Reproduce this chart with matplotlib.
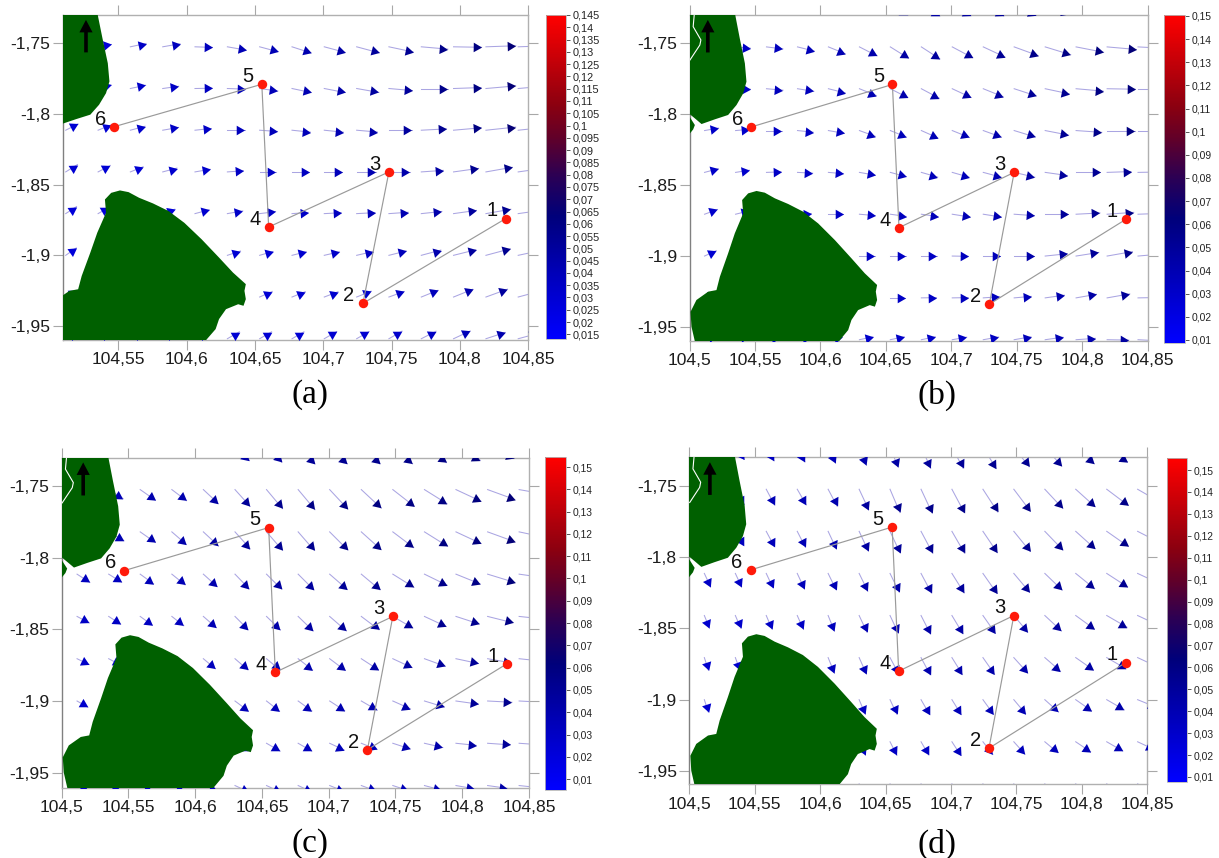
import numpy as np
import matplotlib
matplotlib.use("Agg")
import matplotlib.pyplot as plt
from matplotlib.cm import ScalarMappable
from matplotlib.colors import LinearSegmentedColormap, Normalize

plt.rcParams["font.family"] = ["Liberation Sans", "DejaVu Sans"]

FIG_W = 1219
FIG_H = 858

# stations along the route, lon / lat
station_lon = [104.8335, 104.729, 104.748, 104.66, 104.655, 104.547]
station_lat = [-1.874, -1.934, -1.841, -1.88, -1.779, -1.809]
station_names = ["1", "2", "3", "4", "5", "6"]

# current vector grid
grid_lon = [104.5115, 104.5352, 104.5588, 104.5825, 104.6061, 104.6298, 104.6534, 104.6771,
            104.7007, 104.7244, 104.748, 104.7717, 104.7953, 104.819, 104.8426]
grid_lat = [-1.723, -1.7525, -1.782, -1.8115, -1.841, -1.8705, -1.9, -1.9295, -1.959]

# direction in degrees on screen, speed in cm/s
angle_a = [
    [-8, -8, -8, -8, -10, -10, -12, -12, -12, -12, -10, -8, -6, -4, -4],
    [10, 10, 12, 10, -2, -10, -15, -18, -15, -15, -12, -5, -1, 2, 2],
    [15, 15, 12, 8, 1, -2, -8, -12, -11, -10, -5, 0, 2, 5, 5],
    [27, 22, 15, 10, 6, 0, -4, -6, -6, -5, 0, 3, 5, 6, 6],
    [32, 28, 22, 15, 10, 4, 0, 0, 0, 0, 0, 4, 8, 10, 8],
    [33, 30, 25, 20, 15, 10, 7, 4, 3, 3, 4, 6, 8, 10, 8],
    [35, 30, 28, 25, 20, 18, 16, 14, 13, 13, 14, 15, 14, 15, 12],
    [30, 30, 28, 26, 26, 25, 24, 22, 21, 22, 20, 22, 22, 20, 15],
    [30, 30, 30, 30, 30, 30, 30, 30, 30, 30, 30, 27, 25, 18, 15],
]
speed_a = [
    [3.0, 3.0, 3.0, 3.2, 3.4, 3.6, 3.8, 4.0, 4.4, 4.8, 5.2, 5.6, 6.0, 6.4, 6.4],
    [2.9, 2.9, 3.5, 3.8, 3.8, 4.1, 4.1, 4.3, 4.7, 5.1, 5.4, 5.8, 6.1, 6.5, 6.5],
    [2.9, 2.9, 3.4, 3.5, 3.7, 3.9, 4.0, 4.2, 4.6, 4.9, 5.1, 5.7, 6.0, 6.5, 6.5],
    [3.0, 3.0, 3.3, 3.5, 3.5, 3.8, 3.9, 4.0, 4.2, 4.5, 5.0, 5.5, 6.0, 6.5, 6.5],
    [3.0, 3.0, 3.0, 3.2, 3.3, 3.5, 3.5, 3.7, 3.9, 4.2, 4.5, 4.8, 5.5, 5.8, 5.8],
    [2.8, 2.8, 2.8, 2.8, 3.2, 3.4, 3.5, 3.5, 3.7, 4.0, 4.2, 4.5, 5.0, 5.5, 5.5],
    [2.8, 2.8, 2.8, 2.8, 2.9, 3.0, 3.0, 3.2, 3.4, 3.7, 3.9, 4.4, 5.0, 5.5, 5.5],
    [2.8, 2.8, 2.8, 2.8, 2.9, 3.0, 3.0, 3.1, 3.2, 3.4, 3.5, 3.9, 4.5, 5.0, 5.0],
    [2.8, 2.8, 2.8, 2.8, 2.9, 3.0, 3.0, 3.0, 3.1, 3.1, 3.3, 3.6, 4.0, 4.4, 4.4],
]

angle_b = [
    [-8, -8, -10, -12, -18, -28, -30, -30, -28, -28, -25, -20, -12, -8, -6],
    [-3, -5, -7, -14, -22, -27, -32, -33, -28, -25, -20, -17, -11, -5, -3],
    [0, -2, -5, -9, -14, -22, -27, -28, -25, -22, -18, -12, -5, -1, 0],
    [10, 5, 0, -6, -10, -20, -22, -24, -22, -20, -17, -11, -4, 0, 0],
    [15, 9, 2, -3, -5, -10, -15, -16, -16, -15, -13, -8, 0, 2, 1],
    [20, 14, 8, 3, 0, -5, -8, -8, -9, -9, -4, 0, 3, 4, 2],
    [25, 18, 12, 6, 2, 0, 0, 0, -1, 0, 0, 6, 9, 10, 5],
    [25, 20, 15, 10, 5, 2, 0, 1, 1, 4, 5, 8, 10, 10, 1],
    [20, 18, 16, 14, 12, 12, 12, 12, 10, 10, 10, 8, 4, -1, -3],
]
speed_b = [
    [3.0, 3.0, 3.2, 3.5, 3.8, 4.0, 4.3, 4.5, 4.7, 5.0, 5.3, 5.6, 5.8, 6.0, 6.0],
    [3.0, 3.2, 3.6, 3.8, 4.0, 4.3, 4.6, 4.8, 5.0, 5.2, 5.6, 5.8, 6.1, 6.4, 6.4],
    [3.0, 3.2, 3.6, 3.6, 3.8, 4.0, 4.2, 4.4, 4.5, 4.7, 5.0, 5.4, 5.9, 6.1, 6.1],
    [3.1, 3.0, 3.3, 3.4, 3.5, 3.7, 3.8, 3.9, 4.0, 4.2, 4.8, 5.2, 5.6, 6.0, 6.0],
    [3.1, 3.0, 3.2, 3.3, 3.3, 3.5, 3.6, 3.7, 3.8, 4.0, 4.6, 4.9, 5.2, 5.2, 5.2],
    [3.0, 3.0, 3.0, 3.0, 3.2, 3.4, 3.5, 3.7, 3.9, 4.0, 4.4, 5.0, 5.2, 5.8, 5.8],
    [2.8, 2.8, 2.8, 3.0, 3.1, 3.3, 3.3, 3.3, 3.5, 3.7, 4.4, 4.8, 5.0, 5.6, 5.6],
    [2.8, 2.8, 2.8, 3.0, 3.1, 3.2, 3.2, 3.3, 3.5, 3.6, 3.7, 4.2, 4.5, 5.0, 5.0],
    [2.8, 2.8, 2.8, 2.9, 3.0, 3.0, 3.1, 3.1, 3.2, 3.4, 3.7, 3.9, 4.2, 4.7, 4.7],
]

angle_c = [
    [-10, -15, -20, -25, -35, -42, -45, -45, -43, -42, -40, -35, -28, -22, -20],
    [-30, -32, -35, -37, -43, -48, -50, -50, -47, -43, -38, -32, -25, -20, -10],
    [-30, -30, -35, -41, -43, -48, -49, -49, -45, -42, -37, -32, -25, -20, -12],
    [-33, -32, -36, -39, -42, -46, -45, -45, -41, -40, -32, -26, -22, -17, -8],
    [-28, -33, -36, -38, -41, -45, -44, -44, -41, -37, -30, -25, -18, -14, -6],
    [-26, -28, -32, -32, -40, -41, -40, -38, -37, -33, -25, -20, -12, -10, -6],
    [-30, -32, -34, -36, -37, -37, -38, -36, -33, -30, -24, -17, -8, -3, -3],
    [-30, -30, -30, -30, -30, -30, -30, -30, -25, -22, -18, -13, -6, -4, -4],
    [-25, -25, -25, -25, -25, -25, -25, -25, -22, -20, -18, -15, -10, -8, -6],
]
speed_c = [
    [3.0, 3.0, 3.2, 3.5, 3.8, 4.2, 4.6, 5.0, 5.2, 5.4, 5.6, 5.8, 6.0, 6.2, 6.0],
    [3.5, 3.7, 4.0, 4.0, 4.4, 4.9, 5.4, 5.7, 5.7, 5.9, 5.8, 5.8, 6.0, 6.3, 6.0],
    [3.5, 3.8, 4.0, 4.1, 4.5, 4.9, 5.2, 5.3, 5.5, 5.7, 5.7, 5.9, 6.0, 6.3, 6.0],
    [3.3, 3.3, 3.6, 3.7, 4.0, 4.4, 4.6, 4.7, 5.0, 5.3, 5.4, 5.5, 5.7, 6.2, 6.0],
    [3.0, 3.1, 3.2, 3.3, 3.7, 4.0, 4.2, 4.5, 4.8, 4.8, 5.0, 5.2, 5.3, 5.7, 5.7],
    [2.9, 2.9, 3.0, 3.0, 3.4, 3.7, 3.8, 4.0, 4.2, 4.4, 4.6, 4.8, 5.0, 5.3, 5.0],
    [2.7, 2.7, 2.8, 3.0, 3.3, 3.6, 3.6, 3.7, 3.9, 4.0, 4.2, 4.5, 4.9, 5.3, 5.3],
    [2.7, 2.7, 2.8, 3.0, 3.2, 3.3, 3.4, 3.4, 3.5, 3.6, 3.9, 4.1, 4.4, 4.9, 4.9],
    [2.7, 2.7, 2.8, 3.0, 3.2, 3.3, 3.4, 3.4, 3.5, 3.5, 3.6, 3.8, 4.0, 4.3, 4.3],
]

angle_d = [
    [-50, -55, -60, -62, -65, -68, -68, -65, -62, -58, -52, -48, -42, -35, -30],
    [-60, -60, -62, -60, -62, -65, -67, -65, -62, -57, -53, -47, -42, -37, -30],
    [-60, -60, -62, -63, -65, -65, -65, -62, -60, -56, -51, -46, -42, -35, -27],
    [-65, -65, -65, -65, -64, -64, -64, -62, -58, -55, -50, -44, -39, -33, -25],
    [-68, -67, -67, -66, -68, -65, -65, -63, -59, -55, -50, -43, -36, -30, -25],
    [-72, -70, -70, -68, -68, -66, -62, -62, -58, -55, -48, -41, -35, -30, -25],
    [-72, -72, -70, -70, -68, -67, -65, -60, -58, -54, -50, -42, -35, -30, -22],
    [-70, -70, -70, -68, -66, -65, -63, -60, -57, -52, -48, -40, -34, -30, -25],
    [-70, -70, -68, -66, -65, -62, -60, -58, -55, -50, -48, -42, -36, -32, -28],
]
speed_d = [
    [3.0, 3.2, 3.4, 3.6, 3.8, 4.2, 4.6, 5.0, 5.2, 5.4, 5.4, 5.4, 5.4, 5.5, 5.3],
    [3.6, 3.8, 3.9, 3.9, 4.2, 4.9, 5.5, 5.7, 5.7, 5.9, 5.9, 5.7, 5.6, 5.8, 5.5],
    [3.5, 3.5, 3.7, 3.9, 4.2, 4.7, 5.1, 5.4, 5.5, 5.6, 5.6, 5.6, 5.6, 5.7, 5.4],
    [3.2, 3.2, 3.4, 3.7, 3.9, 4.3, 4.5, 4.8, 5.0, 5.3, 5.3, 5.2, 5.3, 5.4, 5.2],
    [2.9, 3.0, 3.2, 3.3, 3.6, 4.0, 4.2, 4.5, 4.6, 4.7, 4.7, 4.9, 5.0, 5.1, 5.0],
    [2.9, 2.9, 3.0, 3.0, 3.6, 3.8, 3.9, 4.2, 4.3, 4.4, 4.4, 4.5, 4.6, 4.8, 4.8],
    [2.8, 2.8, 2.8, 3.0, 3.2, 3.4, 3.5, 3.7, 3.8, 3.9, 4.0, 4.0, 4.2, 4.4, 4.4],
    [2.8, 2.8, 2.8, 3.0, 3.2, 3.2, 3.3, 3.3, 3.5, 3.5, 3.6, 3.7, 3.9, 4.0, 4.0],
    [2.8, 2.8, 2.8, 3.0, 3.0, 3.2, 3.2, 3.2, 3.3, 3.3, 3.4, 3.5, 3.6, 3.8, 3.8],
]

# land outlines, lon / lat
big_island_lon = [104.5512, 104.5575, 104.5652, 104.5754, 104.5868, 104.5983, 104.611, 104.6237, 104.6339,
                  104.6433, 104.6423, 104.6433, 104.6416, 104.6377, 104.6288, 104.6237, 104.6212, 104.6097,
                  104.5053, 104.5015, 104.5008, 104.5053, 104.5143, 104.5206, 104.5232, 104.5295, 104.5346,
                  104.541, 104.5402, 104.5448]
big_island_lat = [-1.8541, -1.8553, -1.8593, -1.8633, -1.8687, -1.877, -1.8887, -1.9016, -1.9122,
                  -1.9204, -1.9251, -1.931, -1.9357, -1.9346, -1.9381, -1.9451, -1.9522, -1.965,
                  -1.965, -1.9498, -1.9393, -1.931, -1.9251, -1.924, -1.9146, -1.8981, -1.884,
                  -1.8699, -1.8605, -1.8558]
north_island_lon = [104.5339, 104.5384, 104.5423, 104.5435, 104.541, 104.5359, 104.5295, 104.5193, 104.5092,
                    104.5041, 104.5, 104.49, 104.49]
north_island_lat = [-1.725, -1.7465, -1.7641, -1.777, -1.7853, -1.7935, -1.8005, -1.8036, -1.8069,
                    -1.8029, -1.7998, -1.7998, -1.725]
islet_lon = [104.5, 104.5041, 104.5028, 104.5, 104.49, 104.49]
islet_lat = [-1.8017, -1.8076, -1.8107, -1.8139, -1.8139, -1.8017]
river_lon = [104.5036, 104.5028, 104.5087, 104.5079, 104.5003]
river_lat = [-1.73, -1.7382, -1.7476, -1.7512, -1.7618]

x_ticks = [104.5, 104.55, 104.6, 104.65, 104.7, 104.75, 104.8, 104.85]
y_ticks = [-1.75, -1.8, -1.85, -1.9, -1.95]
cbar_ticks_a = [0.015, 0.02, 0.025, 0.03, 0.035, 0.04, 0.045, 0.05, 0.055, 0.06, 0.065, 0.07, 0.075, 0.08,
                0.085, 0.09, 0.095, 0.1, 0.105, 0.11, 0.115, 0.12, 0.125, 0.13, 0.135, 0.14, 0.145]
cbar_ticks = [0.01, 0.02, 0.03, 0.04, 0.05, 0.06, 0.07, 0.08, 0.09, 0.1, 0.11, 0.12, 0.13, 0.14, 0.15]

current_cmap = LinearSegmentedColormap.from_list(
    "current", [(0, "#0000ff"), (0.38, "#00007a"), (0.5, "#2a0055"), (0.62, "#60002a"),
                (0.72, "#8a0010"), (1, "#ff0000")])

panels = [
    {"name": "(a)", "box": (62.7, 15, 528.3, 340), "xlim": (104.5093, 104.85), "ylim": (-1.9599, -1.73),
     "cbox": (546, 15, 566, 339), "vlim": (0.0131, 0.145), "cticks": cbar_ticks_a, "csize": 7.8,
     "angle": angle_a, "speed": speed_a, "north": 0.05, "caption": (310, 395)},
    {"name": "(b)", "box": (689.5, 15, 1147.7, 340.7), "xlim": (104.5, 104.85), "ylim": (-1.9597, -1.73),
     "cbox": (1164, 15, 1185, 343), "vlim": (0.0087, 0.1504), "cticks": cbar_ticks, "csize": 7.4,
     "angle": angle_b, "speed": speed_b, "north": 0.04, "caption": (937, 395)},
    {"name": "(c)", "box": (61.7, 457.5, 529, 787.7), "xlim": (104.5, 104.85), "ylim": (-1.9605, -1.7301),
     "cbox": (545, 457, 566, 790), "vlim": (0.0051, 0.1545), "cticks": cbar_ticks, "csize": 7.4,
     "angle": angle_c, "speed": speed_c, "north": 0.046, "caption": (310, 844)},
    {"name": "(d)", "box": (689.3, 457.3, 1147.3, 784.3), "xlim": (104.5, 104.85), "ylim": (-1.9593, -1.7301),
     "cbox": (1167, 458, 1187, 782), "vlim": (0.0077, 0.1555), "cticks": cbar_ticks, "csize": 7.4,
     "angle": angle_d, "speed": speed_d, "north": 0.045, "caption": (937, 844)},
]


def comma(value, decimals):
    text = f"{value:.{decimals}f}".rstrip("0")
    return text.replace(".", ",")


def px_axes(box):
    left, top, right, bottom = box
    return fig.add_axes([left / FIG_W, 1 - bottom / FIG_H, (right - left) / FIG_W, (bottom - top) / FIG_H])


def draw_currents(ax, panel):
    left, top, right, bottom = panel["box"]
    lon_per_px = (panel["xlim"][1] - panel["xlim"][0]) / (right - left)
    lat_per_px = (panel["ylim"][1] - panel["ylim"][0]) / (bottom - top)
    norm = Normalize(*panel["vlim"])

    for r, lat in enumerate(grid_lat):
        for c, lon in enumerate(grid_lon):
            angle = panel["angle"][r][c]
            speed = panel["speed"][r][c] / 100
            length = speed * 460
            dir_x = np.cos(np.radians(angle))
            dir_y = np.sin(np.radians(angle))
            color = current_cmap(norm(speed))

            tip_x = lon + dir_x * length * lon_per_px
            tip_y = lat + dir_y * length * lat_per_px
            head_x = lon + dir_x * (length - 5.5) * lon_per_px
            head_y = lat + dir_y * (length - 5.5) * lat_per_px

            ax.plot([lon, tip_x], [lat, tip_y], color="#aaa5e2", lw=0.75, zorder=2)
            ax.plot(head_x, head_y, marker=(3, 0, angle - 90), ms=8, color=color, mew=0, zorder=3)


def draw_land(ax):
    ax.fill(big_island_lon, big_island_lat, color="#006000", lw=0, zorder=4)
    ax.fill(north_island_lon, north_island_lat, color="#006000", lw=0, zorder=4)
    ax.fill(islet_lon, islet_lat, color="#006000", lw=0, zorder=4)
    ax.plot(river_lon, river_lat, color="white", lw=0.8, zorder=5)


def draw_route(ax):
    ax.plot(station_lon, station_lat, color="#9a9a9a", lw=0.85, zorder=6)
    ax.plot(station_lon, station_lat, "o", color="#ff1a0a", ms=6.8, mew=0, zorder=7)
    for name, lon, lat in zip(station_names, station_lon, station_lat):
        ax.annotate(name, (lon, lat), xytext=(-10, 5.5), textcoords="offset points", ha="center", va="center",
                    fontsize=14.5, color="#111111", zorder=8)


def style_axes(ax, panel):
    ax.set_xlim(panel["xlim"])
    ax.set_ylim(panel["ylim"])
    ax.set_xticks([t for t in x_ticks if t >= panel["xlim"][0]])
    ax.set_yticks(y_ticks)
    ax.set_xticklabels([comma(t, 2) for t in x_ticks if t >= panel["xlim"][0]])
    ax.set_yticklabels([comma(t, 2) for t in y_ticks])
    ax.tick_params(axis="both", which="both", top=True, right=True, direction="out", length=7, width=0.8,
                   color="#a8a8a8", labelsize=12.6, labelcolor="#1c1c1c", pad=2)
    for side in ax.spines:
        ax.spines[side].set_color("#b0b0b0")
        ax.spines[side].set_linewidth(1.0)
    ax.spines["left"].set_color("#808080")


fig = plt.figure(figsize=(FIG_W / 100, FIG_H / 100), dpi=100)

for panel in panels:
    ax = px_axes(panel["box"])
    draw_currents(ax, panel)
    draw_land(ax)
    draw_route(ax)
    style_axes(ax, panel)

    # north arrow
    ax.annotate("", xy=(panel["north"], 0.985), xytext=(panel["north"], 0.885), xycoords="axes fraction",
                textcoords="axes fraction", zorder=9,
                arrowprops=dict(width=2.6, headwidth=9.5, headlength=9, color="black", shrink=0, lw=0))

    cax = px_axes(panel["cbox"])
    sm = ScalarMappable(norm=Normalize(*panel["vlim"]), cmap=current_cmap)
    cb = fig.colorbar(sm, cax=cax, ticks=panel["cticks"])
    cb.ax.set_yticklabels([comma(t, 3) for t in panel["cticks"]])
    cb.ax.tick_params(length=3, width=0.7, color="#555555", labelsize=panel["csize"], labelcolor="#222222", pad=1.5)
    cb.outline.set_edgecolor("#b8b8b8")
    cb.outline.set_linewidth(0.6)

    x, y = panel["caption"]
    fig.text(x / FIG_W, 1 - y / FIG_H, panel["name"], family="Liberation Serif", fontsize=24,
             ha="center", va="center", color="black")

fig.savefig("out.png", dpi=100)
